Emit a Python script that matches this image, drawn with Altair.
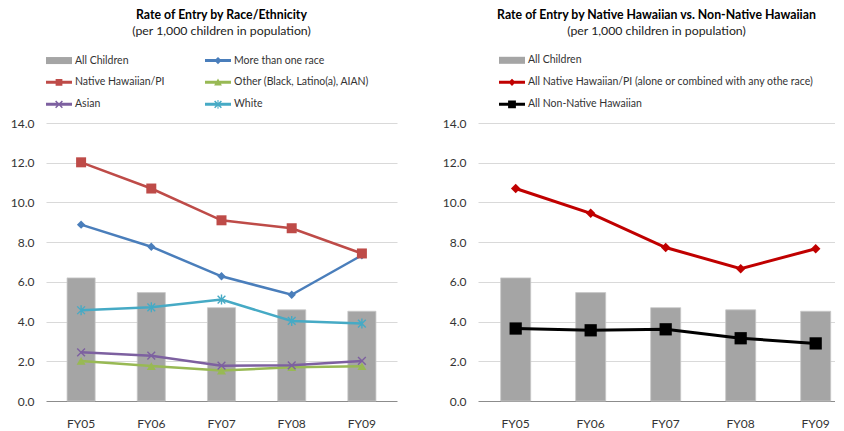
import altair as alt
import pandas as pd

years = ["FY05", "FY06", "FY07", "FY08", "FY09"]

# Left panel: Rate of Entry by Race/Ethnicity
all_children = [6.20, 5.46, 4.70, 4.59, 4.52]
more_than_one_race = [8.88, 7.77, 6.28, 5.35, 7.34]
native_hawaiian_pi = [12.02, 10.70, 9.10, 8.70, 7.43]
other_black_latino_aian = [2.02, 1.76, 1.53, 1.70, 1.75]
asian = [2.45, 2.28, 1.78, 1.80, 2.02]
white = [4.57, 4.72, 5.11, 4.03, 3.90]

# Right panel: Native Hawaiian vs Non-Native Hawaiian
all_native_hawaiian = [10.70, 9.45, 7.73, 6.66, 7.67]
all_non_native_hawaiian = [3.65, 3.56, 3.61, 3.16, 2.90]

left_series = [
    ("All Children", all_children),
    ("Native Hawaiian/PI", native_hawaiian_pi),
    ("Asian", asian),
    ("More than one race", more_than_one_race),
    ("Other (Black, Latino(a), AIAN)", other_black_latino_aian),
    ("White", white),
]
right_series = [
    ("All Children", all_children),
    ("All Native Hawaiian/PI (alone or combined with any othe race)", all_native_hawaiian),
    ("All Non-Native Hawaiian", all_non_native_hawaiian),
]

FONT = "Lato"
BAR = "#A5A5A5"

X_PATH = "M-1,-1L1,1M-1,1L1,-1"
AST_PATH = "M-1,-1L1,1M-1,1L1,-1M0,-1.3L0,1.3"
left_styles = {
    "More than one race": ("#4A7EBB", "diamond", 70, True, 2.5),
    "Native Hawaiian/PI": ("#BE4B48", "square", 100, True, 2.5),
    "Other (Black, Latino(a), AIAN)": ("#98B954", "triangle-up", 80, True, 2.5),
    "Asian": ("#7D60A0", X_PATH, 60, False, 2.5),
    "White": ("#46AAC5", AST_PATH, 60, False, 2.5),
}
right_styles = {
    "All Native Hawaiian/PI (alone or combined with any othe race)": ("#C00000", "diamond", 90, True, 3),
    "All Non-Native Hawaiian": ("#000000", "square", 150, True, 3),
}

LINE = "M-1,-0.12H1V0.12H-1Z"
BARP = "M-1,-0.27H1V0.27H-1Z"
XM = "M-0.3,-0.22L-0.22,-0.3L0.3,0.22L0.22,0.3Z M0.22,-0.3L0.3,-0.22L-0.22,0.3L-0.3,0.22Z"
leg_sym = {
    "All Children": BARP,
    "More than one race": LINE + "M0,-0.28L0.28,0L0,0.28L-0.28,0Z",
    "Native Hawaiian/PI": LINE + "M-0.26,-0.26H0.26V0.26H-0.26Z",
    "Other (Black, Latino(a), AIAN)": LINE + "M0,-0.3L0.3,0.24L-0.3,0.24Z",
    "Asian": LINE + XM,
    "White": LINE + XM + " M-0.04,-0.34H0.04V0.34H-0.04Z",
    "All Native Hawaiian/PI (alone or combined with any othe race)": LINE + "M0,-0.28L0.28,0L0,0.28L-0.28,0Z",
    "All Non-Native Hawaiian": LINE + "M-0.3,-0.3H0.3V0.3H-0.3Z",
}
leg_col = {"All Children": BAR}
leg_col.update({k: v[0] for k, v in left_styles.items()})
leg_col.update({k: v[0] for k, v in right_styles.items()})


def make_df(series):
    rows = []
    for name, vals in series:
        for y, v in zip(years, vals):
            rows.append({"series": name, "year": y, "value": v})
    return pd.DataFrame(rows)


def panel(series, styles, title, width, xscale, legend_x, legend_y, columns, col_pad):
    df = make_df(series)
    base = alt.Chart(df)
    xenc = alt.X(
        "year:N", sort=years, title=None, scale=xscale,
        axis=alt.Axis(labelAngle=0, ticks=False, domain=False,
                      labelPadding=17, labelFontSize=12, grid=False),
    )
    yenc = alt.Y(
        "value:Q", title=None, scale=alt.Scale(domain=[0, 14]),
        axis=alt.Axis(values=[0, 2, 4, 6, 8, 10, 12, 14], format=".1f",
                      domain=False, ticks=False,
                      gridColor=alt.condition("datum.value === 0", alt.value("#8C8C8C"), alt.value("#D9D9D9")),
                      labelPadding=12, labelFontSize=12, minExtent=38, maxExtent=38),
    )
    layers = [
        base.transform_filter(alt.datum.series == "All Children")
        .mark_bar(color=BAR, stroke="#C8C8C8", strokeWidth=0.8)
        .encode(x=xenc, y=yenc)
    ]
    for name, (col, shp, size, filled, lw) in styles.items():
        sub = base.transform_filter(alt.datum.series == name)
        layers.append(sub.mark_line(color=col, strokeWidth=lw).encode(x=xenc, y=yenc))
        if filled:
            pt = sub.mark_point(filled=True, color=col, opacity=1, shape=shp, size=size, strokeWidth=0)
        else:
            pt = sub.mark_point(filled=False, color=col, opacity=1, shape=shp, size=size, strokeWidth=1.4)
        layers.append(pt.encode(x=xenc, y=yenc))
    names = [s[0] for s in series]
    legend_layer = base.transform_filter("false").mark_point(filled=True, opacity=1).encode(
        x=xenc, y=yenc,
        color=alt.Color("series:N", scale=alt.Scale(domain=names, range=[leg_col[n] for n in names]),
                        legend=alt.Legend(
                            orient="none", legendX=legend_x, legendY=legend_y, title=None,
                            columns=columns, columnPadding=col_pad, rowPadding=3,
                            symbolSize=676, symbolStrokeWidth=0, labelOffset=3,
                            labelFontSize=10.5, labelFont=FONT, labelColor="#333333",
                            labelLimit=400)),
        shape=alt.Shape("series:N", scale=alt.Scale(domain=names, range=[leg_sym[n] for n in names])),
    )
    layers.append(legend_layer)
    return alt.layer(*layers).properties(
        width=width, height=278,
        title=alt.TitleParams(text=title, subtitle="(per 1,000 children in population)",
                              font=FONT, fontSize=12.3, fontWeight="bold", color="#000000",
                              subtitleFont=FONT, subtitleFontSize=12.3, subtitleColor="#222222",
                              anchor="middle", offset=10, subtitlePadding=4),
    )


left = panel(left_series, left_styles, "Rate of Entry by Race/Ethnicity", 351,
             alt.Scale(paddingInner=0.6, paddingOuter=0.3), 0, -75.7, 2, 40)
right = panel(right_series, right_styles, "Rate of Entry by Native Hawaiian vs. Non-Native Hawaiian",
              357, alt.Scale(paddingInner=0.6, paddingOuter=0.18, align=0.84), 21, -75.7, 1, 10)

chart = alt.hconcat(left, right, spacing=43, padding=0, background="white").resolve_scale(
    color="independent", shape="independent"
).configure_view(strokeWidth=0, stroke=None).configure_axis(
    labelFont=FONT, labelColor="#333333"
)

chart.save("out.html", embed_options={"renderer": "svg", "actions": False})
